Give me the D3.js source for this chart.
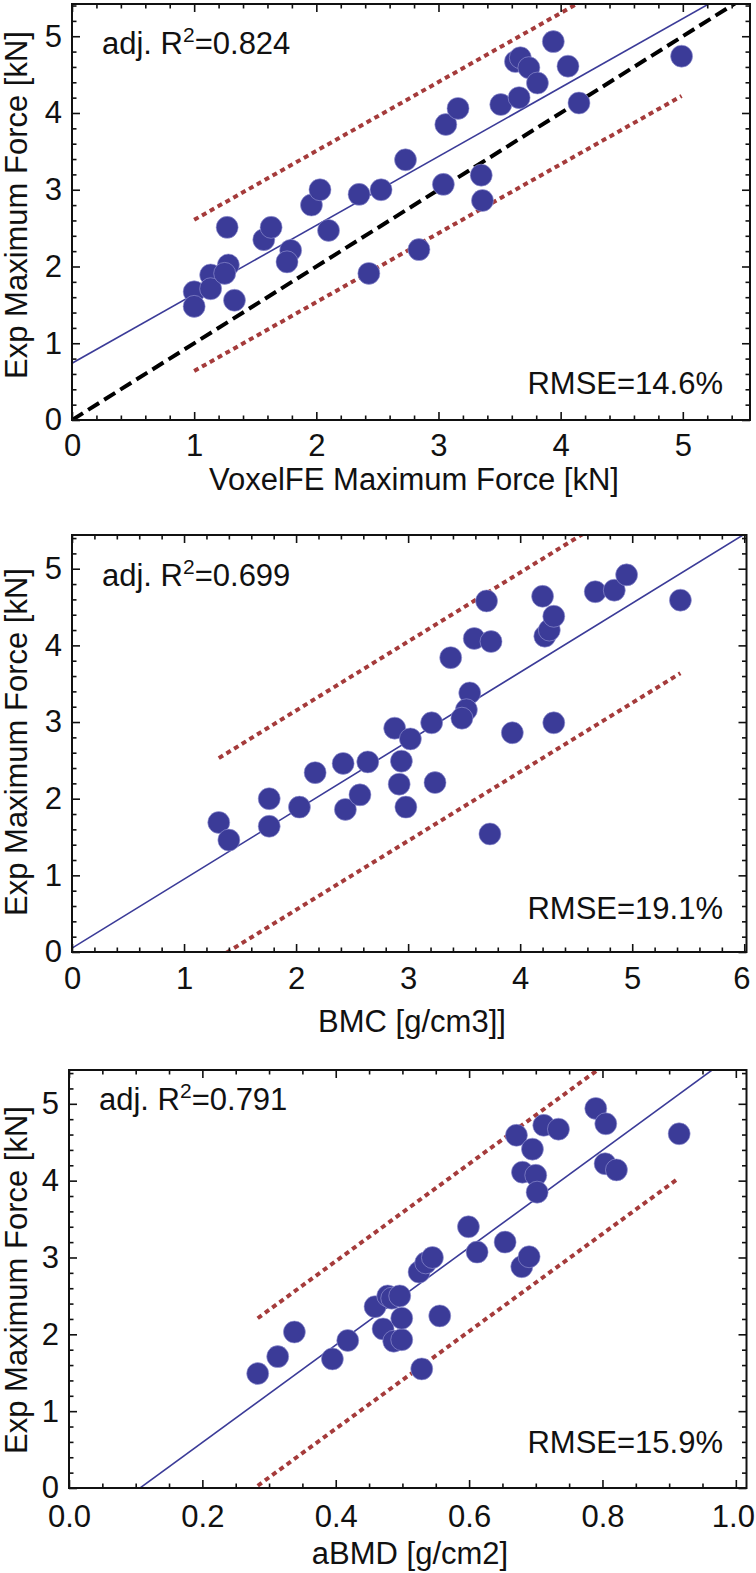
<!DOCTYPE html>
<html><head><meta charset="utf-8">
<script src="https://cdn.jsdelivr.net/npm/d3@7"></script>
<style>
body{margin:0;background:#fff;}
svg text{font-family:"Liberation Sans",Arial,Helvetica,sans-serif;fill:#111;}
</style></head><body>
<svg id="chart" width="756" height="1573"></svg>
<script>
// ---------- data ----------
const voxelFE   = [1.00,1.00,1.135,1.135,1.28,1.25,1.27,1.33,1.57,1.63,1.79,1.76,1.96,2.03,2.10,2.43,2.35,2.53,2.73,3.04,3.06,3.16,3.35,3.36,3.51,3.66,3.63,3.67,3.74,3.81,3.94,4.06,4.15,4.99,2.84];
const expForce1 = [1.67,1.48,1.89,1.71,2.02,1.91,2.51,1.56,2.35,2.51,2.21,2.06,2.80,3.00,2.47,1.91,2.94,3.00,3.39,3.07,3.85,4.06,3.19,2.86,4.11,4.20,4.67,4.72,4.59,4.39,4.93,4.61,4.13,4.74,2.22];

const bmc       = [1.31,1.40,1.76,1.76,2.03,2.17,2.42,2.44,2.57,2.64,2.88,3.02,2.94,2.92,2.98,3.24,3.21,3.93,4.30,3.73,3.38,3.59,3.74,3.70,3.55,3.52,3.48,4.20,4.22,4.26,4.30,4.67,4.84,4.95,5.43];
const expForce2 = [1.69,1.46,2.00,1.64,1.89,2.34,2.46,1.86,2.05,2.48,2.92,2.78,2.49,2.19,1.89,2.21,2.99,2.86,2.99,1.54,3.84,4.09,4.05,4.58,3.38,3.16,3.05,4.64,4.12,4.20,4.38,4.70,4.72,4.92,4.59];

const abmd      = [0.283,0.313,0.338,0.395,0.418,0.459,0.471,0.478,0.484,0.496,0.487,0.499,0.499,0.529,0.556,0.525,0.535,0.545,0.599,0.612,0.654,0.679,0.690,0.671,0.695,0.680,0.700,0.702,0.712,0.734,0.790,0.805,0.804,0.821,0.915];
const expForce3 = [1.49,1.71,2.03,1.68,1.92,2.36,2.07,2.50,2.47,2.50,1.91,1.93,2.21,1.55,2.24,2.81,2.93,3.00,3.40,3.07,3.20,2.88,3.01,4.59,4.41,4.11,4.07,3.85,4.72,4.67,4.94,4.74,4.22,4.14,4.61];

// regression [intercept, slope] and prediction band offsets [upper, lower]
const fit1 = [0.74, 0.898],  band1 = [0.97, -1.00];
const fit2 = [0.05, 0.900],  band2 = [1.30, -1.30];
const fit3 = [-0.675, 6.34], band3 = [1.09, -1.09];

// tick labels
const xTicks1 = [0,1,2,3,4,5];
const xTicks2 = [0,1,2,3,4,5,6];
const xTicks3 = [0.0,0.2,0.4,0.6,0.8,1.0];
const yTicks  = [0,1,2,3,4,5];

const xLabels = ["VoxelFE Maximum Force [kN]", "BMC [g/cm3]]", "aBMD [g/cm2]"];
const yLabel  = "Exp Maximum Force [kN]";
const r2Text  = ["0.824", "0.699", "0.791"];
const rmseText = ["RMSE=14.6%", "RMSE=19.1%", "RMSE=15.9%"];

// ---------- layout ----------
const panels = [
  {x: voxelFE, y: expForce1, fit: fit1, band: band1, xTicks: xTicks1, xMinorStep: 0.2, xFmt: d3.format("d"),
   xDom: [0,5.55], yDom: [0,5.42], left: 72, right: 750, top: 4, bottom: 420,
   identity: true, xLabelY: 490, xLabelX: 414, yLabelC: 205, pad: 14, r2Y: 54, rmseY: 394},
  {x: bmc, y: expForce2, fit: fit2, band: band2, xTicks: xTicks2, xMinorStep: 0.2, xFmt: d3.format("d"),
   xDom: [0,6.02], yDom: [0,5.44], left: 72, right: 746.5, top: 535, bottom: 952,
   identity: false, xLabelY: 1032, xLabelX: 412, yLabelC: 742, pad: 15, r2Y: 586, rmseY: 919},
  {x: abmd, y: expForce3, fit: fit3, band: band3, xTicks: xTicks3, xMinorStep: 0.05, xFmt: d3.format(".1f"),
   xDom: [0,1.016], yDom: [0,5.44], left: 69, right: 746.5, top: 1070, bottom: 1488,
   identity: false, xLabelY: 1564, xLabelX: 410, yLabelC: 1280, pad: 17, r2Y: 1110, rmseY: 1453}
];

const svg = d3.select("#chart");
const FONT = 31;
const ptColor = "#3b3b98";
const dotColor = "#a53b3b";

panels.forEach((p, i) => {
  const x = d3.scaleLinear().domain(p.xDom).range([p.left, p.right]);
  const y = d3.scaleLinear().domain(p.yDom).range([p.bottom, p.top]);
  const g = svg.append("g");

  const clipId = "clip" + i;
  svg.append("clipPath").attr("id", clipId).append("rect")
    .attr("x", p.left).attr("y", p.top).attr("width", p.right - p.left).attr("height", p.bottom - p.top);

  const plot = g.append("g").attr("clip-path", `url(#${clipId})`);
  const line = d3.line().x(d => x(d[0])).y(d => y(d[1]));

  if (p.identity) {
    plot.append("path").datum([[0,0],[6,6]]).attr("d", line)
      .attr("fill","none").attr("stroke","#000").attr("stroke-width",4)
      .attr("stroke-dasharray","13,6");
  }
  const [xmin, xmax] = d3.extent(p.x);
  p.band.forEach(off => {
    const f = v => p.fit[0] + p.fit[1]*v + off;
    plot.append("path").datum([[xmin, f(xmin)],[xmax, f(xmax)]]).attr("d", line)
      .attr("fill","none").attr("stroke",dotColor).attr("stroke-width",4)
      .attr("stroke-dasharray","5,4");
  });
  const fr = v => p.fit[0] + p.fit[1]*v;
  plot.append("path").datum([[p.xDom[0], fr(p.xDom[0])],[p.xDom[1], fr(p.xDom[1])]]).attr("d", line)
    .attr("fill","none").attr("stroke",ptColor).attr("stroke-width",1.6);

  plot.selectAll("circle").data(p.x.map((v,k)=>[v,p.y[k]])).join("circle")
    .attr("cx", d => x(d[0])).attr("cy", d => y(d[1])).attr("r", 11)
    .attr("fill", ptColor).attr("stroke","#9a9ad6").attr("stroke-width",0.6);

  const xMinor = d3.range(p.xDom[0], p.xDom[1] + 1e-9, p.xMinorStep).filter(v => !p.xTicks.some(t => Math.abs(t - v) < 1e-6));
  const yMinor = d3.range(0, p.yDom[1] + 1e-9, 0.2).filter(v => !yTicks.some(t => Math.abs(t - v) < 1e-6));

  const styleAxis = sel => {
    sel.select(".domain").remove();
    sel.selectAll("line").attr("stroke","#111").attr("stroke-width",1.6);
    sel.selectAll("text").attr("font-size", FONT).attr("fill","#111")
      .attr("font-family",'"Liberation Sans",Arial,Helvetica,sans-serif');
  };

  const bx = g.append("g").attr("transform",`translate(0,${p.bottom})`)
    .call(d3.axisBottom(x).tickValues(p.xTicks).tickFormat(p.xFmt).tickSize(-8).tickPadding(p.pad)).call(styleAxis);
  // keep the last label inside the page edge
  bx.selectAll(".tick text").filter(d => x(d) > 730).attr("dx", -3);
  g.append("g").attr("transform",`translate(0,${p.bottom})`)
    .call(d3.axisBottom(x).tickValues(xMinor).tickFormat("").tickSize(-4.5)).call(styleAxis);
  g.append("g").attr("transform",`translate(0,${p.top})`)
    .call(d3.axisTop(x).tickValues(p.xTicks).tickFormat("").tickSize(-8)).call(styleAxis);
  g.append("g").attr("transform",`translate(0,${p.top})`)
    .call(d3.axisTop(x).tickValues(xMinor).tickFormat("").tickSize(-4.5)).call(styleAxis);
  g.append("g").attr("transform",`translate(${p.left},0)`)
    .call(d3.axisLeft(y).tickValues(yTicks).tickFormat(d3.format("d")).tickSize(-8).tickPadding(10)).call(styleAxis);
  g.append("g").attr("transform",`translate(${p.left},0)`)
    .call(d3.axisLeft(y).tickValues(yMinor).tickFormat("").tickSize(-4.5)).call(styleAxis);
  g.append("g").attr("transform",`translate(${p.right},0)`)
    .call(d3.axisRight(y).tickValues(yTicks).tickFormat("").tickSize(-8)).call(styleAxis);
  g.append("g").attr("transform",`translate(${p.right},0)`)
    .call(d3.axisRight(y).tickValues(yMinor).tickFormat("").tickSize(-4.5)).call(styleAxis);

  g.append("rect").attr("x", p.left).attr("y", p.top)
    .attr("width", p.right - p.left).attr("height", p.bottom - p.top)
    .attr("fill","none").attr("stroke","#111").attr("stroke-width",2);

  g.append("text").attr("x", p.xLabelX).attr("y", p.xLabelY).attr("text-anchor","middle")
    .attr("font-size", FONT).text(xLabels[i]);
  g.append("text").attr("transform",`translate(27,${p.yLabelC}) rotate(-90)`).attr("text-anchor","middle")
    .attr("font-size", FONT).text(yLabel);

  const t = g.append("text").attr("x", p.left + 30).attr("y", p.r2Y).attr("font-size", FONT);
  t.append("tspan").text("adj. R");
  t.append("tspan").attr("font-size", 21).attr("dy", -12).text("2");
  t.append("tspan").attr("dy", 12).text("=" + r2Text[i]);

  g.append("text").attr("x", 723).attr("y", p.rmseY).attr("text-anchor","end")
    .attr("font-size", FONT).text(rmseText[i]);
});
</script>
</body></html>
